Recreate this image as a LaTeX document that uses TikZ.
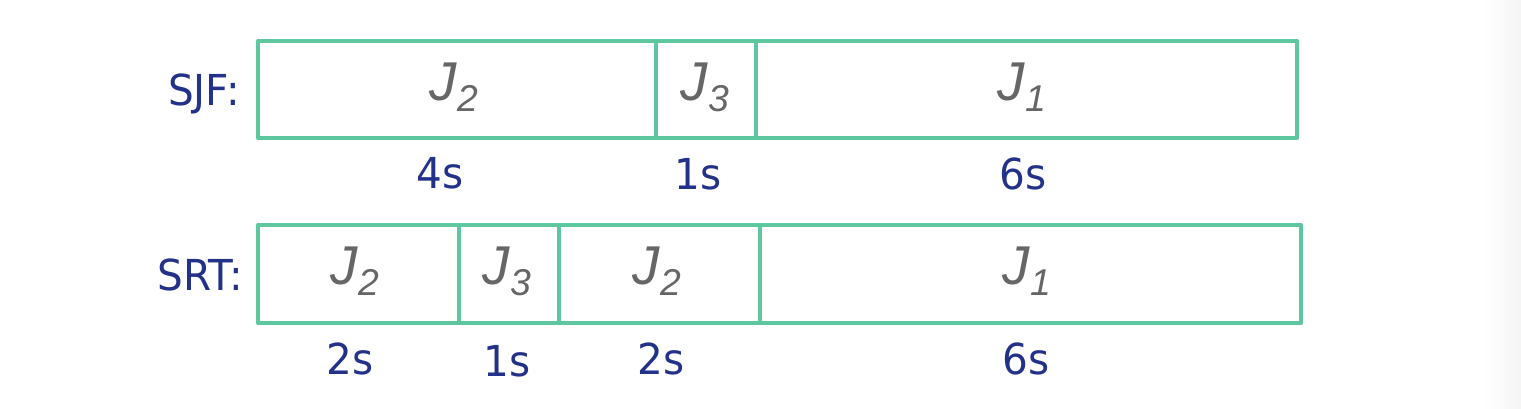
\documentclass[tikz,border=0pt]{standalone}
\usepackage{fontspec}
\setmainfont{DejaVu Sans}[FakeStretch=0.95]
\newfontfamily\jfont{Liberation Sans}
\definecolor{navy}{HTML}{233289}
\definecolor{jgray}{HTML}{666666}
\definecolor{mint}{HTML}{5EC7A0}
\tikzset{
  px/.style={x=0.75pt,y=-0.75pt},
  boxline/.style={draw=mint, line width=3pt, line join=round},
  lbl/.style={inner sep=0pt, text=navy, font=\fontsize{32pt}{36pt}\selectfont},
  dur/.style={inner sep=0pt, anchor=base, text=navy, font=\fontsize{32pt}{36pt}\selectfont},
  jl/.style={inner sep=0pt, anchor=base, text=jgray, font=\jfont\itshape\fontsize{41pt}{46pt}\selectfont},
}
\newcommand{\job}[1]{J\kern1pt\raisebox{-8pt}{\fontsize{28pt}{30pt}\selectfont #1}}
\begin{document}
\begin{tikzpicture}[px]
\useasboundingbox (0,0) rectangle (1521,409);
\fill[white] (0,0) rectangle (1521,409);
\shade[left color=white, right color=black!4] (1482,0) rectangle (1521,409);
% SJF row
\draw[boxline] (258,41) rectangle (1297,138);
\draw[boxline] (656,41) -- (656,138);
\draw[boxline] (756,41) -- (756,138);
\node[lbl, anchor=base east] (sjf) at (240,106) {SJF:};
\node[jl] (a1) at (454,101) {\job{2}};
\node[jl] (a2) at (705,101) {\job{3}};
\node[jl] (a3) at (1022,101) {\job{1}};
\node[dur] (ad1) at (440,189) {4s};
\node[dur] (ad2) at (698,190) {1s};
\node[dur] (ad3) at (1023,190) {6s};
% SRT row
\draw[boxline] (258,225) rectangle (1301,323);
\draw[boxline] (459,225) -- (459,323);
\draw[boxline] (559,225) -- (559,323);
\draw[boxline] (760,225) -- (760,323);
\node[lbl, anchor=base east] (srt) at (243,291) {SRT:};
\node[jl] (b1) at (355,285) {\job{2}};
\node[jl] (b2) at (507,285) {\job{3}};
\node[jl] (b3) at (657,285) {\job{2}};
\node[jl] (b4) at (1027,285) {\job{1}};
\node[dur] (bd1) at (350,375) {2s};
\node[dur] (bd2) at (507,377) {1s};
\node[dur] (bd3) at (661,375) {2s};
\node[dur] (bd4) at (1026,375) {6s};
\end{tikzpicture}
\end{document}
